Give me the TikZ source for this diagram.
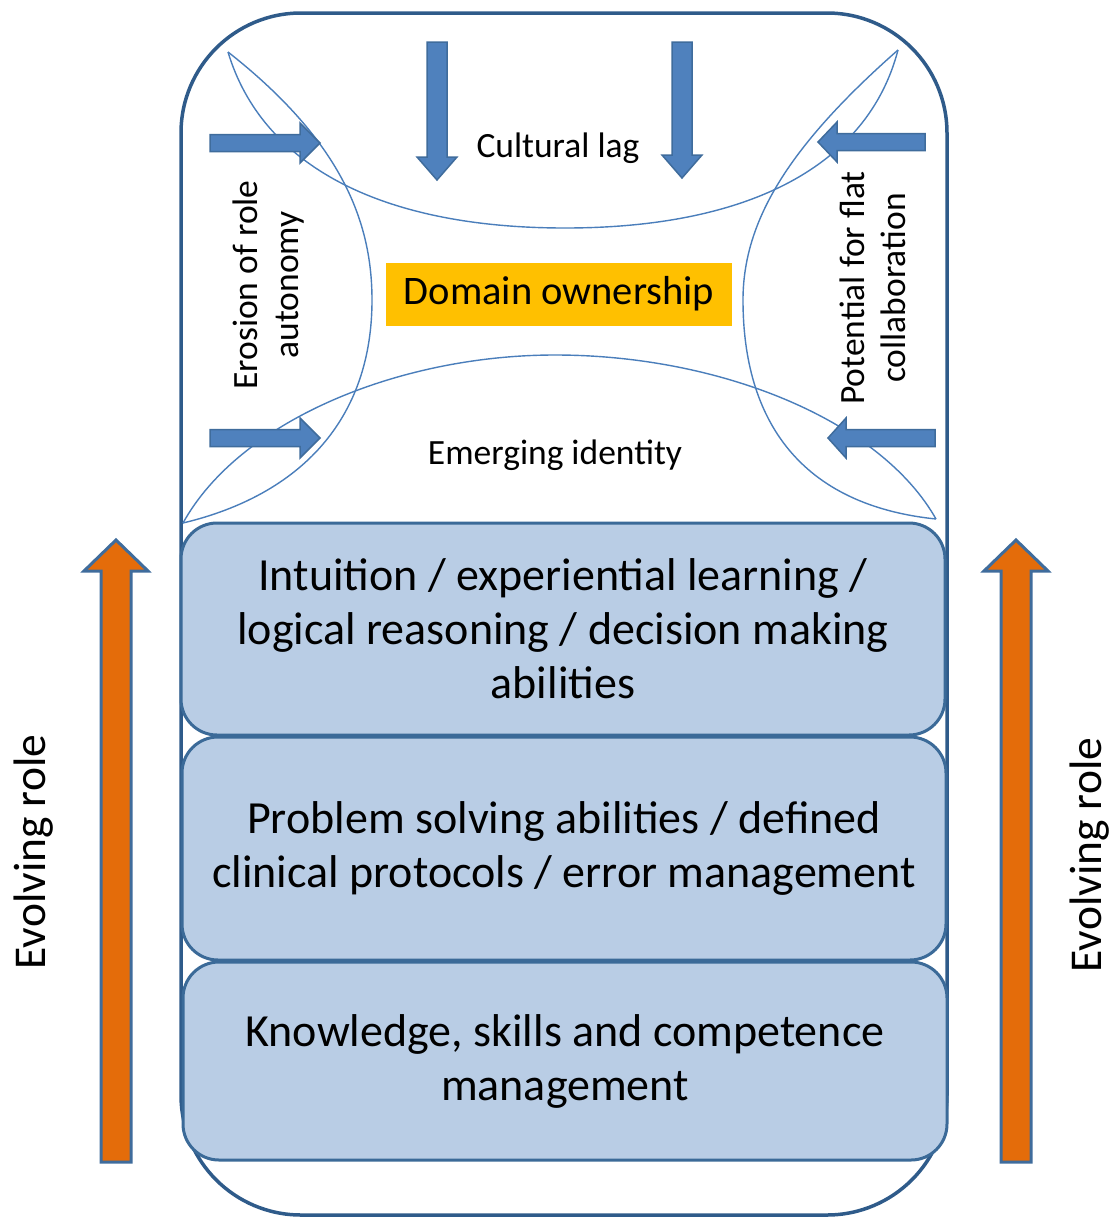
\documentclass[tikz,border=0pt]{standalone}
\usepackage{fontspec}
\setmainfont{Carlito}
\definecolor{outl}{HTML}{2F5B8A}
\definecolor{boxfill}{HTML}{B9CDE5}
\definecolor{boxline}{HTML}{3B6A98}
\definecolor{arrblue}{HTML}{4F81BD}
\definecolor{arrline}{HTML}{3F6C9C}
\definecolor{curveblue}{HTML}{4A7EBB}
\definecolor{orangearr}{HTML}{E46C0A}
\definecolor{gold}{HTML}{FFC000}
\tikzset{
  pics/arrdown/.style args={#1/#2/#3/#4}{code={\path[pic actions] (-#2,0) -- (-#2,#1-#4) -- (-#3,#1-#4) -- (0,#1) -- (#3,#1-#4) -- (#2,#1-#4) -- (#2,0) -- cycle;}},
  pics/arrup/.style args={#1/#2/#3/#4}{code={\path[pic actions] (-#2,0) -- (-#2,-#1+#4) -- (-#3,-#1+#4) -- (0,-#1) -- (#3,-#1+#4) -- (#2,-#1+#4) -- (#2,0) -- cycle;}},
  pics/arrright/.style args={#1/#2/#3/#4}{code={\path[pic actions] (0,-#2) -- (#1-#4,-#2) -- (#1-#4,-#3) -- (#1,0) -- (#1-#4,#3) -- (#1-#4,#2) -- (0,#2) -- cycle;}},
  pics/arrleft/.style args={#1/#2/#3/#4}{code={\path[pic actions] (0,-#2) -- (-#1+#4,-#2) -- (-#1+#4,-#3) -- (-#1,0) -- (-#1+#4,#3) -- (-#1+#4,#2) -- (0,#2) -- cycle;}},
  bluearrow/.style={fill=arrblue, draw=arrline, line width=1.5pt},
  orangearrow/.style={fill=orangearr, draw=arrline, line width=3pt},
  thincurve/.style={draw=curveblue, line width=1.4pt},
  layerbox/.style={draw=boxline, fill=boxfill, line width=3pt, rounded corners=36pt,
    minimum width=764pt, align=center, inner sep=0pt,
    font=\fontsize{46}{54}\selectfont},
  smalllbl/.style={font=\fontsize{35.5}{41}\selectfont, align=center, inner sep=0pt},
  evolve/.style={font=\fontsize{45.5}{54}\selectfont, rotate=90, inner sep=0pt},
}
\begin{document}
\begin{tikzpicture}[x=1pt, y=-1pt]
\useasboundingbox (0,0) rectangle (1114,1219);
% outer container
\draw[draw=outl, line width=3.5pt, fill=white, rounded corners=120pt] (181,13) rectangle (947,1215);
% thin curves
\coordinate (tl) at (228,52);
\coordinate (tr) at (898,50);
\coordinate (bl) at (183,523);
\coordinate (br) at (936,519);
\draw[thincurve] (tl) .. controls (262,165) and (380,228) .. (565,228) .. controls (750,228) and (868,165) .. (tr);
\draw[thincurve] (tl) .. controls (340,140) and (372,220) .. (372,300) .. controls (372,420) and (300,495) .. (bl);
\draw[thincurve] (bl) .. controls (240,420) and (400,355) .. (555,355) .. controls (720,355) and (880,420) .. (br);
\draw[thincurve] (tr) .. controls (790,145) and (743,220) .. (743,300) .. controls (743,420) and (800,505) .. (br);
% blue arrows
\pic[bluearrow] (dA) at (437,42) {arrdown={138/10/20/23}};
\pic[bluearrow] (dB) at (682,42) {arrdown={136/10/20/23}};
\pic[bluearrow] (rA) at (210,143) {arrright={110/8.5/20/20}};
\pic[bluearrow] (rB) at (210,438) {arrright={110/8.5/20/20}};
\pic[bluearrow] (lA) at (925,142) {arrleft={107/8.5/20/19}};
\pic[bluearrow] (lB) at (935,438) {arrleft={107/8.5/20/18}};
% labels in the top part
\node[smalllbl] (lag) at (558,148) {Cultural lag};
\node[smalllbl] (emerg) at (555,455) {Emerging identity};
\node[fill=gold, minimum width=346pt, minimum height=63pt, inner sep=0pt,
      font=\fontsize{40.5}{46}\selectfont] (dom) at (559,294) {Domain ownership};
\node[smalllbl, rotate=90] (eros) at (269,285) {Erosion of role\\autonomy};
\node[smalllbl, rotate=90] (pot) at (873,288) {Potential for flat\\collaboration};
% layer boxes
\node[layerbox, minimum height=212pt] (b1) at (563,629) {Intuition / experiential learning /\\logical reasoning / decision making\\abilities};
\node[layerbox, minimum height=223pt] (b2) at (564,848.5) {Problem solving abilities / defined\\clinical protocols / error management};
\node[layerbox, minimum height=198pt] (b3) at (565,1061) {Knowledge, skills and competence\\management};
% orange arrows
\pic[orangearrow] (uL) at (116,1162) {arrup={622/15/32/31}};
\pic[orangearrow] (uR) at (1016,1162) {arrup={622/15/32/31}};
\node[evolve] (evL) at (34,852) {Evolving role};
\node[evolve] (evR) at (1090,855) {Evolving role};
\end{tikzpicture}
\end{document}
